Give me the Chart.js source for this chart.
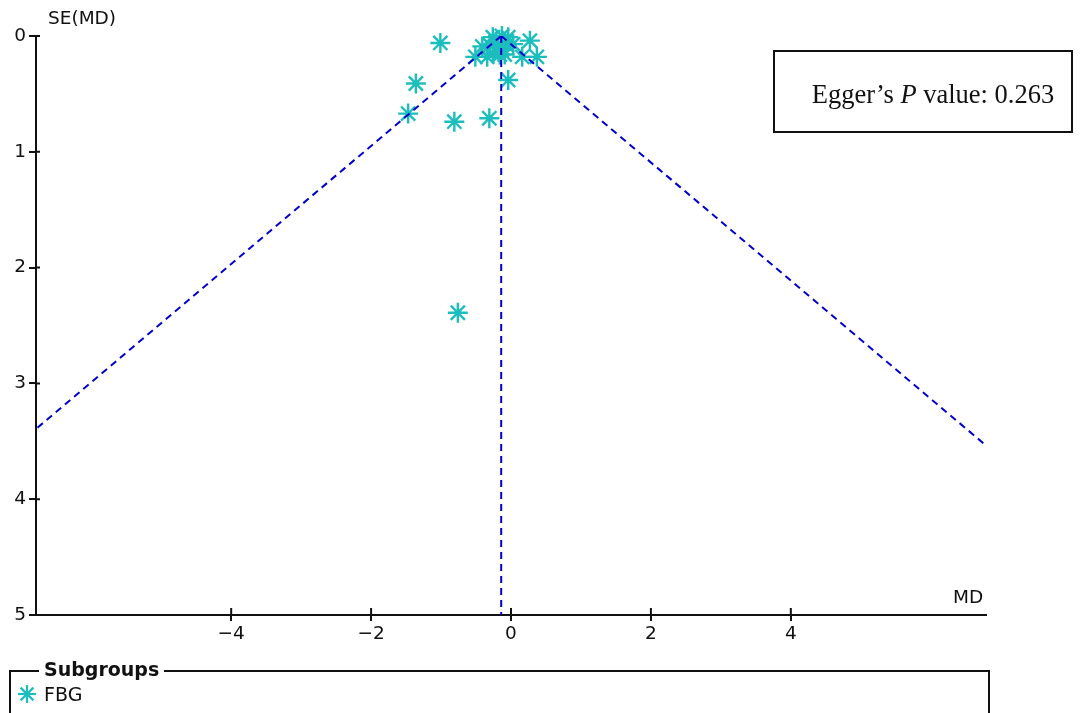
<!DOCTYPE html>
<html>
<head>
<meta charset="utf-8">
<script src="https://cdn.jsdelivr.net/npm/chart.js@4.4.0/dist/chart.umd.min.js"></script>
<style>
body { margin: 0; background: #fff; font-family: "DejaVu Sans", sans-serif; }
#wrap { position: relative; width: 1085px; height: 713px; overflow: hidden; }
#funnel { position: absolute; left: 0; top: 0; }
.lbl { position: absolute; font-size: 18.5px; color: #111; line-height: 1; }
#egger { position: absolute; left: 773px; top: 50px; border: 2px solid #111;
  box-sizing: content-box; display: flex; align-items: center; justify-content: center;
  padding: 6px 0 0 20px; height: 73px; width: 276px;
  font-family: "Liberation Serif", "Times New Roman", serif; font-size: 26.5px; color: #111; }
#subgroups { position: absolute; left: 9px; top: 670px; width: 977px; height: 80px;
  border: 2px solid #111; border-bottom: none; }
#subgroups .title { position: absolute; left: 28px; top: -12px; padding: 0 5px; background: #fff;
  font-weight: bold; font-size: 19px; line-height: 1; color: #111; }
#subgroups .item { position: absolute; left: 6px; top: 11px; display: flex; align-items: center; gap: 7px;
  font-size: 19px; color: #111; }
</style>
</head>
<body>
<div id="wrap">
  <canvas id="funnel" width="1085" height="713"></canvas>
  <div class="lbl" style="left:48px; top:9px;">SE(MD)</div>
  <div class="lbl" style="left:953px; top:588px;">MD</div>
  <div id="egger"><span>Egger’s <i>P</i> value: 0.263</span></div>
  <div id="subgroups">
    <div class="title">Subgroups</div>
    <div class="item">
      <svg width="20" height="20" viewBox="-10 -10 20 20">
        <g stroke="#1cbdbd" stroke-width="2.2">
          <line x1="-9" y1="0" x2="9" y2="0"/><line x1="0" y1="-9" x2="0" y2="9"/>
          <line x1="-6.4" y1="-6.4" x2="6.4" y2="6.4"/><line x1="-6.4" y1="6.4" x2="6.4" y2="-6.4"/>
        </g>
      </svg>
      <span>FBG</span>
    </div>
  </div>
</div>
<script>
// study estimates (mean difference) and their standard errors
const md = [-1.01, -1.36, -1.47, -0.81, -0.31, -0.04, -0.76, 0.27, 0.37, 0.16,
  -0.26, -0.13, -0.04, -0.41, -0.30, -0.20, -0.13, -0.51, -0.34, -0.16, -0.26, -0.06, -0.09, 0.03, -0.22];
const se = [0.06, 0.41, 0.67, 0.74, 0.71, 0.38, 2.39, 0.04, 0.18, 0.18,
  0.01, 0.00, 0.01, 0.09, 0.08, 0.10, 0.12, 0.18, 0.18, 0.16, 0.15, 0.08, 0.16, 0.07, 0.05];
const pooledMD = -0.14;
const seMax = 5;
const xTicks = [-4, -2, 0, 2, 4];
const yTicks = [0, 1, 2, 3, 4, 5];

const studies = md.map((v, i) => ({ x: v, y: se[i] }));
const leftLimit = [{ x: pooledMD, y: 0 }, { x: pooledMD - 1.96 * seMax, y: seMax }];
const rightLimit = [{ x: pooledMD, y: 0 }, { x: pooledMD + 1.96 * seMax, y: seMax }];
const centre = [{ x: pooledMD, y: 0 }, { x: pooledMD, y: seMax }];

const dashed = { type: 'line', borderColor: '#0000cc', borderWidth: 2, borderDash: [7, 5],
  pointRadius: 0, fill: false, tension: 0 };

// tick marks cross the axis line, so draw the inner half here
const innerTicks = {
  id: 'innerTicks',
  afterDraw(chart) {
    const { ctx, chartArea, scales } = chart;
    ctx.save();
    ctx.strokeStyle = '#111';
    ctx.lineWidth = 2;
    ctx.beginPath();
    xTicks.forEach(v => {
      const px = scales.x.getPixelForValue(v);
      ctx.moveTo(px, chartArea.bottom);
      ctx.lineTo(px, chartArea.bottom - 7);
    });
    yTicks.forEach(v => {
      const py = scales.y.getPixelForValue(v);
      ctx.moveTo(chartArea.left, py);
      ctx.lineTo(chartArea.left + 4, py);
    });
    ctx.stroke();
    ctx.restore();
  }
};

new Chart(document.getElementById('funnel'), {
  type: 'scatter',
  data: {
    datasets: [
      { ...dashed, data: leftLimit },
      { ...dashed, data: rightLimit },
      { ...dashed, data: centre },
      { label: 'FBG', data: studies, pointStyle: 'star', pointRadius: 10, pointBorderWidth: 2.4,
        borderColor: '#1cbdbd', backgroundColor: '#1cbdbd', showLine: false, clip: false }
    ]
  },
  options: {
    responsive: false,
    animation: false,
    layout: { padding: { top: 36, right: 99, left: 0, bottom: 0 } },
    plugins: { legend: { display: false }, tooltip: { enabled: false } },
    scales: {
      x: {
        type: 'linear', min: -6.79, max: 6.79,
        afterBuildTicks: s => { s.ticks = xTicks.map(v => ({ value: v })); },
        afterFit: s => { s.height = 98; },
        grid: { drawOnChartArea: false, drawTicks: true, tickLength: 6, color: '#111', lineWidth: 2 },
        border: { display: true, color: '#111', width: 2 },
        ticks: { color: '#111', font: { family: 'DejaVu Sans', size: 18.5 }, padding: 2,
          callback: v => String(v).replace('-', '\u2212') }
      },
      y: {
        type: 'linear', reverse: true, min: 0, max: 5,
        afterBuildTicks: s => { s.ticks = yTicks.map(v => ({ value: v })); },
        afterFit: s => { s.width = 36; },
        grid: { drawOnChartArea: false, drawTicks: true, tickLength: 7, color: '#111', lineWidth: 2 },
        border: { display: true, color: '#111', width: 2 },
        ticks: { color: '#111', font: { family: 'DejaVu Sans', size: 18.5 }, padding: 3 }
      }
    }
  },
  plugins: [innerTicks]
});
</script>
</body>
</html>
